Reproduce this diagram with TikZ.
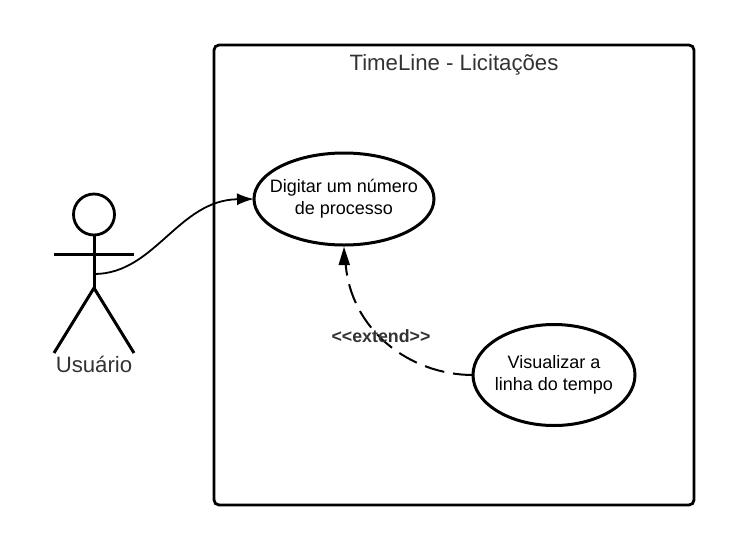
\documentclass[tikz,border=0pt]{standalone}
\usepackage{fontspec}
\setmainfont{Liberation Sans}
\usetikzlibrary{arrows.meta,shapes.geometric}
\definecolor{lbl}{HTML}{333333}
\tikzset{
 line/.style={draw=black,line width=3pt},
 usecase/.style={ellipse,draw=black,line width=3pt,fill=white,align=center,inner ysep=-6pt,inner xsep=-16pt,outer sep=0pt,font=\fontsize{18pt}{22pt}\selectfont},
 arr/.style={draw=black,line width=1.8pt,-{Latex[length=17pt,width=12pt]}},
 bigtext/.style={text=lbl,font=\fontsize{22.2pt}{26pt}\selectfont},
}
\begin{document}
\begin{tikzpicture}[x=1pt,y=-1pt]
\useasboundingbox (0,0) rectangle (748,550);
\node[draw=black,line width=2.8pt,rounded corners=5pt,minimum width=480pt,minimum height=460pt,inner sep=0pt,outer sep=0pt,anchor=north west] (sys) at (214,45) {};
\node[bigtext,anchor=center] (title) at (454,65) {TimeLine - Licitações};
\node[usecase,minimum width=180pt,minimum height=92pt] (uc1) at (344,199) {\raisebox{1pt}{Digitar um número}\\\raisebox{1pt}{de processo}};
\node[usecase,minimum width=162pt,minimum height=101pt] (uc2) at (554,375) {Visualizar a\\linha do tempo};
\node[circle,draw=black,line width=2.8pt,minimum size=41pt,inner sep=0pt,outer sep=0pt] (head) at (94,214.5) {};
\coordinate (hip) at (94,288);
\coordinate (armL) at (54,254);
\coordinate (armR) at (134,254);
\coordinate (legL) at (54,353);
\coordinate (legR) at (134,353);
\coordinate (start) at (94,274);
\coordinate (ctip) at (344,247);
\draw[line] (head.south) -- (hip);
\draw[line] (armL) -- (armR);
\draw[line] (hip) -- (legL);
\draw[line] (hip) -- (legR);
\node[bigtext] (actor) at (94,364) {Usuário};
\draw[arr] (start) .. controls (155,274) and (178,200) .. (uc1.west);
\draw[draw=black,line width=2pt,dash pattern=on 20pt off 9pt] (uc2.west) .. controls (410,375) and (350,330) .. (345.5,262);
\draw[draw=none,fill=black] (ctip) -- (350,265) -- (338.5,265) -- cycle;
\node[text=lbl,font=\bfseries\fontsize{17.8pt}{20pt}\selectfont,inner sep=0pt] (ext) at (381,336) {<{}<extend>{}>};
\end{tikzpicture}
\end{document}
